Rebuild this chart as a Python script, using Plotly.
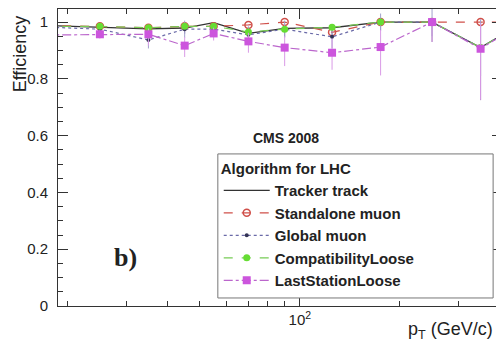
import plotly.graph_objects as go
import numpy as np

# ---- data ----
pt = [15, 25, 35, 45, 55, 70, 90, 125, 175, 250, 350, 450]
tracker = [0.990, 0.983, 0.976, 0.979, 0.998, 0.960, 0.978, 0.980, 1.000, 1.000, 0.910, 0.985]
standalone = [0.990, 0.985, 0.980, 0.985, 0.985, 0.990, 1.000, 0.964, 1.000, 1.000, 1.000, 1.000]
global_mu = [0.985, 0.975, 0.937, 0.975, 0.975, 0.955, 0.975, 0.948, 1.000, 1.000, 0.910, 0.985]
compat = [0.985, 0.985, 0.980, 0.985, 0.985, 0.965, 0.975, 0.982, 1.000, 1.000, 0.910, 0.985]
laststation = [0.954, 0.957, 0.957, 0.917, 0.960, 0.932, 0.910, 0.892, 0.912, 1.000, 0.906, 0.985]
lsl_err_up = [0.015, 0.015, 0.02, 0.03, 0.02, 0.03, 0.04, 0.05, 0.06, 0.0, 0.09, 0.0]
lsl_err_dn = [0.015, 0.015, 0.04, 0.04, 0.025, 0.04, 0.065, 0.06, 0.10, 0.07, 0.18, 0.0]
trk_err_up = [0.005, 0.005, 0.01, 0.01, 0.002, 0.02, 0.01, 0.01, 0.0, 0.0, 0.09, 0.0]
trk_err_dn = [0.01, 0.01, 0.02, 0.02, 0.02, 0.03, 0.03, 0.03, 0.03, 0.07, 0.185, 0.0]
glb_err = [0.01, 0.015, 0.03, 0.03, 0.02, 0.03, 0.03, 0.04, 0.03, 0.05, 0.1, 0.0]

y_ticks = [0, 0.2, 0.4, 0.6, 0.8, 1.0]
y_ticktext = ["0", "0.2", "0.4", "0.6", "0.8", "1"]
x_major = [100]
x_major_text = ["10<sup>2</sup>"]
x_minor = [20, 30, 40, 50, 60, 70, 80, 90, 200, 300, 400]

names = ["Tracker track", "Standalone muon", "Global muon", "CompatibilityLoose", "LastStationLoose"]

FONT = "Liberation Sans, Arial, sans-serif"

fig = go.Figure()

fig.add_trace(go.Scatter(
    x=pt, y=tracker, name=names[0], mode="lines",
    line=dict(color="#333333", width=1.3, dash="solid"),
    error_y=dict(type="data", symmetric=False, array=trk_err_up, arrayminus=trk_err_dn,
                 color="#8a7aa8", thickness=1, width=0),
))
fig.add_trace(go.Scatter(
    x=pt, y=standalone, name=names[1], mode="lines+markers",
    line=dict(color="#d0504a", width=1.2, dash="dash"),
    marker=dict(symbol="circle-open", size=7, color="#d0504a", line=dict(width=1.5)),
))
fig.add_trace(go.Scatter(
    x=pt, y=global_mu, name=names[2], mode="lines+markers",
    line=dict(color="#6a6aa8", width=1.2, dash="dot"),
    marker=dict(symbol="circle", size=4, color="#333355"),
    error_y=dict(type="data", array=glb_err, color="#a0a0cc", thickness=1, width=0),
))
fig.add_trace(go.Scatter(
    x=pt, y=compat, name=names[3], mode="lines+markers",
    line=dict(color="#77cc55", width=1.2, dash="dash"),
    marker=dict(symbol="circle", size=7, color="#66dd33"),
))
fig.add_trace(go.Scatter(
    x=pt, y=laststation, name=names[4], mode="lines+markers",
    line=dict(color="#bb66cc", width=1.2, dash="dashdot"),
    marker=dict(symbol="square", size=8, color="#cc55dd"),
    error_y=dict(type="data", symmetric=False, array=lsl_err_up, arrayminus=lsl_err_dn,
                 color="#d99ae6", thickness=1, width=0),
))

# page body has an 8px margin: the figure is drawn from (8, 8)
fig.update_layout(
    width=496, height=341,
    margin=dict(l=50, r=2, t=1, b=43),
    paper_bgcolor="white", plot_bgcolor="white",
    font=dict(family=FONT, size=15, color="#222222"),
    showlegend=True,
    legend=dict(
        x=0.362, y=0.51, xanchor="left", yanchor="top",
        bgcolor="rgba(0,0,0,0)", borderwidth=0,
        font=dict(family=FONT, size=15, color="#222222", weight="bold"),
        title=dict(text="Algorithm for LHC",
                   font=dict(family=FONT, size=15, color="#222222", weight="bold")),
        itemwidth=46, tracegroupgap=0,
    ),
)

# legend frame
fig.add_shape(type="rect", xref="paper", yref="paper", x0=0.360, x1=0.980, y0=0.027, y1=0.512,
              line=dict(color="#777777", width=1), fillcolor="white", layer="above")

fig.update_xaxes(
    type="log", range=[np.log10(18.7), np.log10(406)], automargin=False,
    tickvals=x_major, ticktext=x_major_text,
    ticks="inside", ticklen=10, tickcolor="#333333", tickwidth=1,
    minor=dict(tickvals=x_minor, ticks="inside", ticklen=5, tickcolor="#333333"),
    showline=True, linecolor="#333333", linewidth=1, mirror="allticks",
    showgrid=False, zeroline=False,
    tickfont=dict(family=FONT, size=15),
)
fig.update_yaxes(
    range=[0, 1.046], automargin=False,
    tickvals=y_ticks, ticktext=y_ticktext,
    ticks="inside", ticklen=10, tickcolor="#333333", tickwidth=1,
    minor=dict(dtick=0.05, ticks="inside", ticklen=5, tickcolor="#333333"),
    showline=True, linecolor="#333333", linewidth=1, mirror="allticks",
    showgrid=False, zeroline=False, ticklabelstandoff=6,
    tickfont=dict(family=FONT, size=15),
)

fig.add_annotation(text="Efficiency", xref="paper", yref="paper", x=-0.086, y=0.85,
                   xanchor="center", yanchor="middle",
                   textangle=-90, showarrow=False, font=dict(family=FONT, size=18))
fig.add_annotation(text="p<sub>T</sub> (GeV/c)", xref="paper", yref="paper", x=0.885, y=-0.084,
                   xanchor="center", yanchor="middle",
                   showarrow=False, font=dict(family=FONT, size=18))
fig.add_annotation(text="<b>CMS 2008</b>", xref="paper", yref="paper", x=0.514, y=0.567,
                   xanchor="center", yanchor="middle",
                   showarrow=False, font=dict(family=FONT, size=14))
fig.add_annotation(text="<b>b)</b>", xref="paper", yref="paper", x=0.151, y=0.164,
                   xanchor="center", yanchor="middle",
                   showarrow=False, font=dict(family="Liberation Serif, DejaVu Serif, serif", size=26))

fig.write_html("out.html")
